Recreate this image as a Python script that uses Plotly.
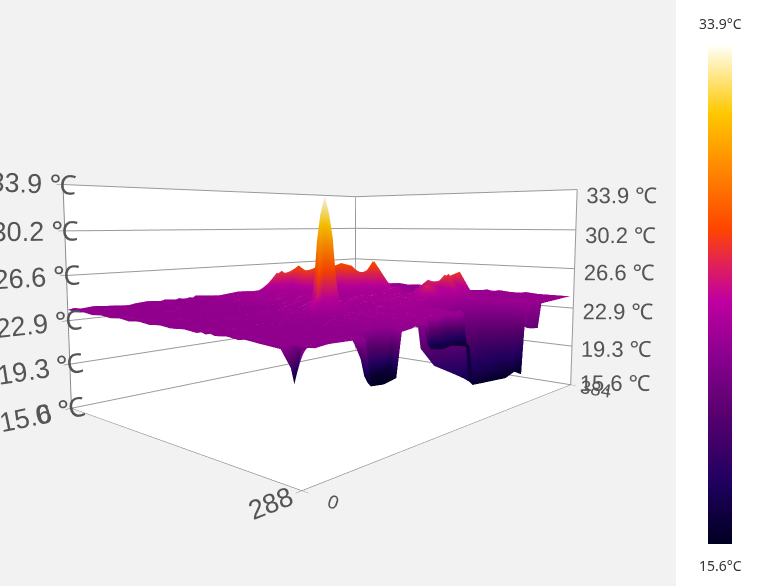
import plotly.graph_objects as go

x_vals = [0,6,12,24,60,66,80,94,100,112,116,120,124,129,132,136,150,165,178,190,196,214,232,250,265,278,284,288,296,308,314,350,384]
y_vals = [0,14,28,42,56,70,84,98,112,126,140,154,170,185,190,195,200,205,218,230,236,250,270,279,282,285,288]
z_vals = [
[23.8,23.9,23.8,23.9,23.7,23.8,23.9,23.8,23.9,23.8,23.9,23.8,23.8,23.9,23.8,24.0,23.9,23.8,23.9,24.0,24.0,23.9,24.0,24.1,24.0,23.9,24.0,24.1,24.0,24.1,24.0,24.1,24.1],
[23.7,23.8,23.9,23.7,23.8,23.9,23.7,23.9,23.8,23.9,23.8,24.0,23.9,23.8,24.0,23.9,24.0,23.9,24.1,24.0,24.1,24.0,23.9,24.0,24.2,24.0,24.1,23.9,24.1,24.0,24.1,24.0,24.0],
[23.8,23.7,23.8,23.9,23.8,23.7,23.9,23.8,23.7,23.9,24.0,23.8,24.0,23.9,23.9,24.1,24.0,24.2,24.3,24.2,24.1,24.2,24.0,24.1,23.9,24.2,24.0,24.1,24.0,24.2,23.9,24.1,24.1],
[23.7,23.8,23.7,23.8,23.9,23.8,23.8,23.7,23.9,23.8,23.7,23.9,24.0,24.1,24.0,24.2,24.1,24.2,24.3,24.5,24.8,24.9,24.6,24.4,24.1,24.2,23.9,24.1,24.0,24.2,24.0,24.1,24.0],
[23.8,23.6,23.8,23.7,23.8,23.7,23.9,23.8,23.8,23.9,24.0,23.8,24.1,24.0,24.2,24.3,24.2,24.4,24.6,25.6,26.1,25.7,24.8,24.4,24.3,24.0,24.2,24.0,24.1,23.9,24.1,24.2,24.0],
[23.7,23.8,23.6,23.8,23.7,23.9,23.7,23.9,23.7,23.8,23.9,24.1,23.9,24.2,24.1,24.5,24.3,24.6,24.9,26.4,26.0,26.8,25.5,24.6,24.3,24.0,24.2,23.9,24.1,24.0,24.1,24.2,24.1],
[23.8,23.7,23.8,23.6,23.9,23.8,23.8,23.7,23.9,23.9,23.8,23.9,24.2,24.0,24.3,24.4,24.5,24.3,24.6,25.2,26.7,25.9,26.6,25.2,24.4,24.1,24.0,24.2,24.0,23.9,24.1,24.0,24.0],
[23.7,23.9,23.7,23.8,23.7,23.8,23.9,23.8,23.8,23.7,24.0,23.9,24.0,24.3,24.2,24.5,24.3,24.6,24.4,24.8,26.3,26.9,25.8,26.7,25.1,24.3,24.1,23.9,24.2,24.1,24.0,24.2,24.1],
[23.8,23.7,23.8,23.7,23.8,23.7,23.8,23.9,23.7,23.9,23.8,24.1,24.0,24.1,24.4,24.3,24.6,24.2,24.5,24.6,24.9,26.7,27.1,25.9,24.8,24.4,24.2,24.0,23.9,24.2,24.1,23.9,24.0],
[23.7,23.8,23.7,23.9,23.6,23.8,23.7,23.8,23.9,23.8,23.9,23.9,24.2,24.0,24.3,24.6,24.2,24.7,24.3,24.4,24.7,25.1,26.9,25.8,27.2,24.9,24.3,24.1,24.0,23.9,24.2,24.0,24.0],
[23.8,23.6,23.8,23.7,23.8,23.9,23.8,23.7,23.8,24.0,23.8,24.0,24.1,24.4,24.2,24.5,24.8,24.3,24.6,24.4,24.3,24.8,25.0,27.3,25.9,24.6,24.2,23.9,24.1,24.0,24.2,23.9,24.1],
[23.7,23.8,23.7,23.8,23.9,23.7,23.9,24.2,24.0,23.8,24.3,23.9,24.4,24.0,24.6,24.1,24.9,24.3,24.8,24.1,24.5,24.4,24.8,24.7,24.3,24.2,24.0,24.2,23.9,24.1,24.0,24.2,24.1],
[23.8,23.7,23.9,23.7,23.8,23.8,24.1,23.8,24.3,24.1,23.9,24.4,24.0,24.3,24.2,24.6,24.1,24.9,24.1,24.7,24.3,24.6,24.0,25.1,24.1,24.3,24.0,24.2,24.1,24.0,24.1,24.0,23.9],
[23.7,23.8,23.7,23.8,23.7,23.9,23.9,24.2,24.0,24.3,24.8,25.1,24.8,24.1,24.5,24.0,24.7,24.2,25.0,24.1,24.9,24.3,24.7,24.1,24.9,24.2,24.0,24.3,23.9,24.1,24.0,24.1,24.0],
[23.8,23.7,23.9,23.7,23.8,23.8,24.0,23.9,24.4,25.0,29.5,31.5,29.5,24.9,24.2,24.6,24.1,24.8,24.3,24.6,24.2,24.9,24.1,24.6,24.3,25.0,24.1,24.2,24.0,24.2,24.0,23.9,24.1],
[23.7,23.8,23.7,23.8,23.7,23.9,24.1,23.8,24.2,25.6,31.4,32.9,31.3,25.5,24.6,24.1,24.9,24.2,24.7,24.3,25.1,24.4,24.8,24.2,24.7,24.3,24.4,24.1,24.1,24.0,24.1,24.0,24.0],
[23.8,23.6,23.8,23.9,23.8,23.7,24.0,24.2,23.9,25.0,29.4,31.4,29.6,25.0,24.1,24.7,24.2,24.6,24.2,24.9,24.4,24.7,24.2,24.6,24.1,24.4,24.0,24.3,24.2,24.0,24.0,24.1,24.0],
[23.7,23.8,23.7,23.7,23.8,23.9,23.8,24.1,24.3,24.2,24.9,25.2,24.9,24.2,24.7,24.1,24.5,24.1,24.8,24.3,24.7,24.2,25.2,25.9,25.5,26.2,26.0,25.2,24.4,24.1,24.0,24.1,24.1],
[23.8,23.7,23.8,23.8,23.7,23.8,24.0,23.8,24.2,24.0,24.1,24.4,23.9,24.2,24.0,24.3,24.1,24.5,24.8,24.2,24.6,24.3,25.6,25.2,26.4,25.3,26.5,25.7,24.6,24.2,24.1,24.0,24.0],
[23.7,23.8,23.7,23.9,23.8,23.9,23.8,24.1,23.9,24.3,24.0,24.2,24.5,24.0,24.3,24.1,24.6,24.2,24.4,24.9,24.3,24.8,24.4,24.8,24.2,24.7,24.9,24.6,24.2,24.1,23.9,24.1,24.0],
[23.8,23.6,23.8,23.7,23.9,23.7,24.0,23.9,24.2,24.0,24.4,24.0,24.3,24.6,24.1,24.4,24.0,24.7,24.2,24.5,20.8,20.6,20.9,20.4,20.7,20.5,24.5,24.2,24.0,24.1,24.0,23.9,24.1],
[23.7,23.8,23.7,23.8,23.7,23.8,24.0,23.8,24.2,23.9,24.2,24.0,24.5,24.1,24.4,24.1,24.0,24.6,24.1,24.4,19.6,19.4,19.7,19.2,19.5,19.1,24.3,24.0,24.1,24.0,24.1,24.0,24.0],
[23.6,23.8,23.8,23.7,23.9,23.7,23.8,24.0,23.9,24.1,24.0,24.3,24.0,24.3,24.2,24.5,24.1,24.2,24.4,24.0,19.2,19.0,19.3,18.9,19.1,18.8,24.4,24.2,24.0,24.1,23.9,24.1,24.0],
[22.6,23.7,23.7,23.8,23.7,22.2,22.2,22.3,24.0,24.0,24.2,24.0,24.2,24.0,24.4,24.0,24.3,24.0,24.2,24.3,19.0,18.9,19.0,18.7,19.0,18.6,24.3,24.1,24.0,24.1,24.0,23.9,24.0],
[21.7,23.4,23.8,23.6,23.8,21.2,21.0,21.3,23.9,24.1,24.1,24.2,23.9,24.2,24.0,24.2,24.0,24.3,24.0,24.1,18.9,18.8,18.8,18.7,18.9,18.5,24.2,24.0,24.1,23.9,24.1,24.0,24.0],
[22.6,23.7,23.8,23.7,23.9,20.8,20.7,20.9,23.8,24.0,24.0,24.0,24.1,24.0,24.1,22.4,22.2,22.3,22.1,21.9,18.8,18.7,18.6,18.5,18.8,18.4,24.1,22.1,22.0,21.9,23.9,24.1,24.0],
[23.7,23.8,23.7,23.8,23.7,20.6,20.5,20.7,23.7,23.8,23.9,23.8,23.9,23.8,24.0,22.1,21.9,22.0,21.8,21.6,18.6,18.5,18.4,18.3,18.6,18.2,23.9,22.0,21.9,21.8,23.9,24.0,24.1],
]
# the flat sheet reads about this much colder than its drawn height; warm ridges read a little warmer
sheet_temp_offset = -0.7
ridge_temp_offset = 0.3
ridge_start = 25.5
# temperatures that differ from the drawn height: (row index, column index, temperature)
temp_cells = [(15,11,33.9),(14,11,32.6),(16,11,32.5),(15,10,32.3),(15,12,32.2),
              (23,0,20.0),(23,1,21.5),(24,0,15.8),(24,1,19.9),(25,0,20.5),(25,1,22.0),
              (23,5,19.5),(23,6,19.0),(23,7,19.8),(24,5,16.4),(24,6,16.2),(24,7,16.6),(25,5,16.2),(25,6,15.9),(25,7,16.4),(26,5,15.8),(26,6,15.6),(26,7,16.0)]
curtain_temps = [[17.6,17.2,17.5,17.0,16.8],[17.2,16.9,17.1,16.7,16.4]]
hole_temps = [
[20.5,20.2,20.6,20.0,20.3,20.1],
[18.8,18.5,18.9,18.3,18.7,18.2],
[17.8,17.6,17.9,17.4,17.7,17.3],
[17.3,17.1,17.4,17.0,17.2,16.9],
[17.0,16.8,16.7,16.6,16.9,16.5],
[16.7,16.5,16.3,16.2,16.7,16.0],
[16.4,16.2,16.1,16.0,16.3,15.9],
]
z_ticks = [15.6, 19.3, 22.9, 26.6, 30.2, 33.9]
z_labels = ["15.6 ℃", "19.3 ℃", "22.9 ℃", "26.6 ℃", "30.2 ℃", "33.9 ℃"]
label_z = [15.6, 18.9, 22.5, 26.2, 29.7, 33.4]
x_ticks = [0, 384]
y_ticks = [0, 288]
label_y = 276
scale_stops = [[0, "#000020"], [0.124, "#200060"], [0.266, "#5a006f"], [0.38, "#8b0090"], [0.49, "#c000a0"],
               [0.56, "#e0205a"], [0.633, "#ff4500"], [0.76, "#ff8c00"], [0.865, "#ffc800"], [1, "#fffff5"]]

temps = [[v + (ridge_temp_offset if v >= ridge_start else sheet_temp_offset) for v in row] for row in z_vals]
for r, c, t in temp_cells:
    temps[r][c] = t
for i, row in enumerate(curtain_temps):
    temps[25 + i][15:20] = row
for i, row in enumerate(hole_temps):
    temps[20 + i][20:26] = row

fig = go.Figure(go.Surface(x=x_vals, y=y_vals, z=z_vals, surfacecolor=temps, colorscale=scale_stops, cmin=15.6, cmax=33.9,
    lighting=dict(ambient=0.95, diffuse=0.35, specular=0.7, roughness=0.3),
    colorbar=dict(x=708/764, xanchor="left", xpad=0, ypad=0, thickness=24, len=498/586, y=1-46/586, yanchor="top",
                  outlinewidth=0, showticklabels=False, ticks="")))
fig.add_trace(go.Scatter3d(x=[384]*6, y=[label_y]*6, z=label_z, mode="text", text=z_labels, textposition="middle right",
    textfont=dict(family="Liberation Sans", size=22, color="#555555"), showlegend=False, hoverinfo="skip"))
ax = dict(showspikes=False, showbackground=True, backgroundcolor="white", gridcolor="#999999", linecolor="#777777",
          showline=True, zeroline=False, title="", ticks="outside", tickcolor="#777777")
fig.update_layout(
    width=764, height=586, margin=dict(l=0, r=0, t=0, b=0), paper_bgcolor="#f2f2f2",
    scene=dict(domain=dict(x=[0, 0.885], y=[0, 1]),
               xaxis=dict(ax, range=[0, 384], tickvals=x_ticks, tickfont=dict(family="Liberation Sans", size=15, color="#555555")),
               yaxis=dict(ax, range=[288, 0], tickvals=y_ticks, tickfont=dict(family="Liberation Sans", size=18, color="#555555")),
               zaxis=dict(ax, range=[15.6, 33.9], tickvals=z_ticks, ticktext=z_labels, ticklen=14, tickfont=dict(family="Liberation Sans", size=18, color="#555555")),
               aspectmode="manual", aspectratio=dict(x=1, y=0.75, z=0.51),
               camera=dict(eye=dict(x=-1.27, y=-1.15, z=0.17))),
    shapes=[dict(type="rect", xref="paper", yref="paper", x0=676/764, x1=1, y0=0, y1=1, fillcolor="white", line_width=0, layer="below")],
    annotations=[dict(x=720/764, y=1-24/586, xref="paper", yref="paper", xanchor="center", yanchor="middle", text="33.9°C", showarrow=False, font=dict(family="Noto Sans", size=14, color="#333333")),
                 dict(x=720/764, y=1-565/586, xref="paper", yref="paper", xanchor="center", yanchor="middle", text="15.6°C", showarrow=False, font=dict(family="Noto Sans", size=14, color="#333333"))],
)
fig.write_html("out.html", config=dict(displayModeBar=False), post_script="document.body.style.margin='0';document.body.style.background='#f2f2f2';")
